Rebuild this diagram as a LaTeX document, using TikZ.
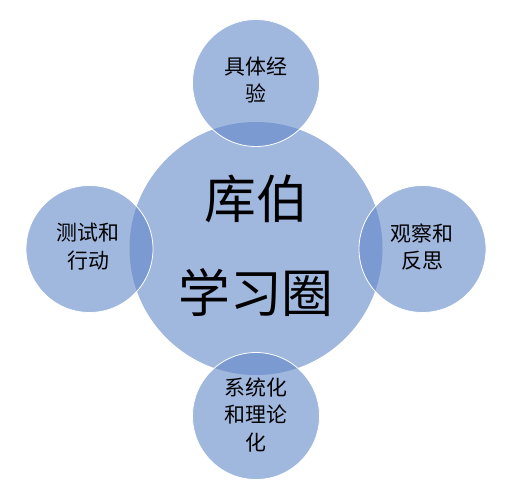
\documentclass[tikz,border=0pt]{standalone}
\usepackage{fontspec}
\setmainfont{Noto Sans CJK SC}
\begin{document}
\begin{tikzpicture}[x=1bp,y=-1bp,
  disc/.style={circle,fill={rgb,255:red,97;green,135;blue,200},fill opacity=0.6,inner sep=0pt},
  smalldisc/.style={disc,draw=white,line width=0.8bp,draw opacity=1,minimum size=127bp},
  smalltxt/.style={align=center,text=black,font=\fontsize{21}{28}\selectfont,inner sep=0pt},
  bigtxt/.style={align=center,text=black,font=\fontsize{52}{94}\selectfont,inner sep=0pt}]
\useasboundingbox (0,0) rectangle (516,492);
\node[disc,minimum size=253bp] (big) at (256,248.5) {};
\node[smalldisc] (top) at (256,83) {};
\node[smalldisc] (left) at (89.5,249) {};
\node[smalldisc] (right) at (422.5,249) {};
\node[smalldisc] (bottom) at (256,416) {};
\node[bigtxt] (bigt) at (256,246) {库伯\\学习圈};
\node[smalltxt] (topt) at (256,80) {具体经\\验};
\node[smalltxt] (leftt) at (88,247) {测试和\\行动};
\node[smalltxt] (rightt) at (422,247) {观察和\\反思};
\node[smalltxt] (bottomt) at (256,415) {系统化\\和理论\\化};
\end{tikzpicture}
\end{document}
